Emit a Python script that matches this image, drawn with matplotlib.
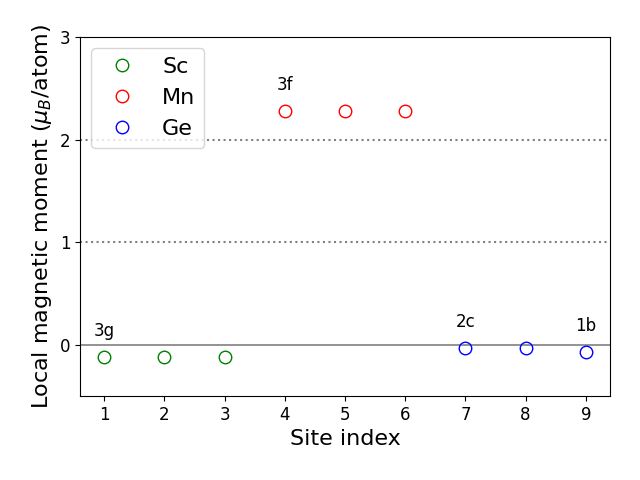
import matplotlib
matplotlib.use("Agg")
import matplotlib.pyplot as plt

sites_sc = [1, 2, 3]
moment_sc = [-0.12, -0.12, -0.12]
sites_mn = [4, 5, 6]
moment_mn = [2.28, 2.28, 2.28]
sites_ge = [7, 8, 9]
moment_ge = [-0.03, -0.03, -0.07]

wyckoff = ["3g", "3f", "2c", "1b"]
wyckoff_site = [1, 4, 7, 9]
wyckoff_moment = [-0.12, 2.28, -0.03, -0.07]

fig, ax = plt.subplots(figsize=(6.4, 4.8), dpi=100)
ax.axhline(0, color="gray", lw=1.2)
ax.axhline(1, color="gray", ls=":", lw=1.5)
ax.axhline(2, color="gray", ls=":", lw=1.5)
ax.plot(sites_sc, moment_sc, "o", mfc="none", mec="green", ms=9, label="Sc")
ax.plot(sites_mn, moment_mn, "o", mfc="none", mec="red", ms=9, label="Mn")
ax.plot(sites_ge, moment_ge, "o", mfc="none", mec="blue", ms=9, label="Ge")
for lab, xs, ys in zip(wyckoff, wyckoff_site, wyckoff_moment):
    ax.text(xs, ys + 0.25, lab, ha="center", va="center", fontsize=12)

ax.set_xlim(0.6, 9.4)
ax.set_ylim(-0.5, 3)
ax.set_xticks(range(1, 10))
ax.set_yticks([0, 1, 2, 3])
ax.tick_params(labelsize=12)
ax.set_xlabel("Site index", fontsize=16)
ax.set_ylabel(r"Local magnetic moment ($\mu_B$/atom)", fontsize=16)
ax.legend(loc="upper left", fontsize=16)
fig.subplots_adjust(left=0.125, right=0.953, top=0.923, bottom=0.175)
fig.savefig("out.png")
